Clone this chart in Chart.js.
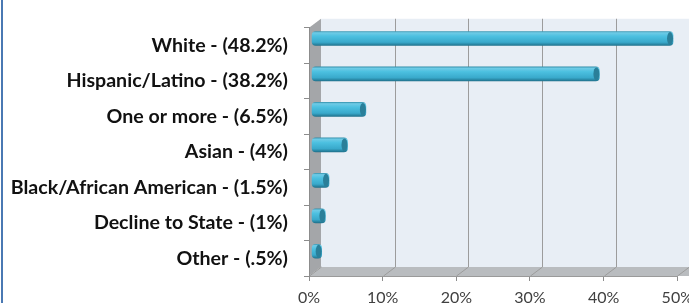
<!DOCTYPE html>
<html>
<head>
<meta charset="utf-8">
<script src="https://cdn.jsdelivr.net/npm/chart.js@4"></script>
<style>
  html, body { margin: 0; padding: 0; overflow: hidden; background: #fff; }
  #wrap { position: relative; width: 689px; height: 303px; overflow: hidden; }
  #edge { position: absolute; left: 1px; top: 0; width: 2px; height: 303px; background: #4a79b3; }
  canvas { position: absolute; left: 0; top: 0; }
</style>
</head>
<body>
<div id="wrap">
  <canvas id="chart" width="700" height="315"></canvas>
  <div id="edge"></div>
</div>
<script>
  // data
  const categories = [
    'White - (48.2%)',
    'Hispanic/Latino - (38.2%)',
    'One or more - (6.5%)',
    'Asian - (4%)',
    'Black/African American - (1.5%)',
    'Decline to State - (1%)',
    'Other - (.5%)'
  ];
  const values = [48.2, 38.2, 6.5, 4, 1.5, 1, 0.5];
  const xTickValues = [0, 10, 20, 30, 40, 50];
  const xTickLabels = ['0%', '10%', '20%', '30%', '40%', '50%'];

  // 3d look: depth of the walls and where the bars sit in it
  const depth = { dx: 12, dy: -9 };
  const barShift = { dx: 9, dy: -7 };

  const walls = {
    id: 'walls',
    beforeDraw(chart) {
      const ctx = chart.ctx;
      const a = chart.chartArea;
      const x = chart.scales.x;
      const { dx, dy } = depth;
      ctx.save();
      // back wall
      ctx.fillStyle = '#e8eef5';
      ctx.fillRect(a.left + dx, a.top + dy, a.right - a.left + 40, a.bottom - a.top);
      // left wall
      ctx.fillStyle = '#a4a6a9';
      ctx.beginPath();
      ctx.moveTo(a.left, a.top);
      ctx.lineTo(a.left + dx, a.top + dy);
      ctx.lineTo(a.left + dx, a.bottom + dy);
      ctx.lineTo(a.left, a.bottom);
      ctx.closePath();
      ctx.fill();
      // floor
      ctx.fillStyle = '#b9bcbf';
      ctx.beginPath();
      ctx.moveTo(a.left, a.bottom);
      ctx.lineTo(a.left + dx, a.bottom + dy);
      ctx.lineTo(a.right + dx + 40, a.bottom + dy);
      ctx.lineTo(a.right + 40, a.bottom);
      ctx.closePath();
      ctx.fill();
      // grid lines on the back wall and the floor
      ctx.strokeStyle = '#9c9c9c';
      ctx.lineWidth = 1;
      xTickValues.forEach(v => {
        const px = Math.round(x.getPixelForValue(v)) + 0.5;
        ctx.beginPath();
        if (v > 0) {
          ctx.moveTo(px + dx, a.top + dy);
          ctx.lineTo(px + dx, a.bottom + dy);
        }
        ctx.moveTo(px + dx, a.bottom + dy);
        ctx.lineTo(px, a.bottom);
        ctx.stroke();
      });
      ctx.restore();
    },
    beforeDatasetsDraw(chart) {
      chart.ctx.save();
      chart.ctx.translate(barShift.dx, barShift.dy);
    },
    afterDatasetsDraw(chart) {
      const ctx = chart.ctx;
      // darker elliptical cap at the end of each cylinder
      chart.getDatasetMeta(0).data.forEach(bar => {
        const h = bar.height;
        ctx.beginPath();
        ctx.ellipse(bar.x - 3, bar.y, 3, h / 2 - 0.5, 0, 0, Math.PI * 2);
        ctx.fillStyle = '#2a7f99';
        ctx.fill();
      });
      ctx.restore();
    }
  };

  function barFill(c) {
    const chart = c.chart;
    if (!chart.chartArea || !chart.scales.y) return '#45b8d8';
    const y = chart.scales.y.getPixelForValue(c.dataIndex);
    const g = chart.ctx.createLinearGradient(0, y - 7.5, 0, y + 7.5);
    g.addColorStop(0, '#2b8aa6');
    g.addColorStop(0.12, '#6fcbe6');
    g.addColorStop(0.35, '#4cc0e0');
    g.addColorStop(0.75, '#39a9cb');
    g.addColorStop(1, '#1d6c86');
    return g;
  }

  new Chart(document.getElementById('chart'), {
    type: 'bar',
    data: {
      labels: categories,
      datasets: [{
        data: values,
        backgroundColor: barFill,
        borderWidth: 0,
        borderRadius: 4,
        borderSkipped: false,
        barThickness: 14,
        base: -0.8,   // cylinders start on the left wall
        clip: false
      }]
    },
    options: {
      indexAxis: 'y',
      responsive: false,
      animation: false,
      layout: { padding: { top: 24, right: 21, left: 0, bottom: 0 } },
      plugins: { legend: { display: false }, tooltip: { enabled: false } },
      scales: {
        x: {
          min: 0,
          max: 50,
          afterBuildTicks: s => { s.ticks = xTickValues.map(v => ({ value: v })); },
          afterFit: s => { s.height = 39; },
          grid: { drawOnChartArea: false, drawTicks: true, tickLength: 5, color: '#8c8c8c' },
          border: { display: true, color: '#9a9a9a' },
          ticks: {
            padding: 7,
            maxRotation: 0,
            color: '#404040',
            font: { family: 'Lato', size: 16 },
            callback: (v, i) => xTickLabels[i]
          }
        },
        y: {
          afterFit: s => { s.width = 309; },
          grid: { drawOnChartArea: false, drawTicks: true, tickLength: 5, color: '#8c8c8c' },
          border: { display: true, color: '#8c8c8c' },
          ticks: {
            padding: 16,
            color: '#111',
            font: { family: 'Lato', size: 19.6, weight: 'bold' }
          }
        }
      }
    },
    plugins: [walls]
  });
</script>
</body>
</html>
